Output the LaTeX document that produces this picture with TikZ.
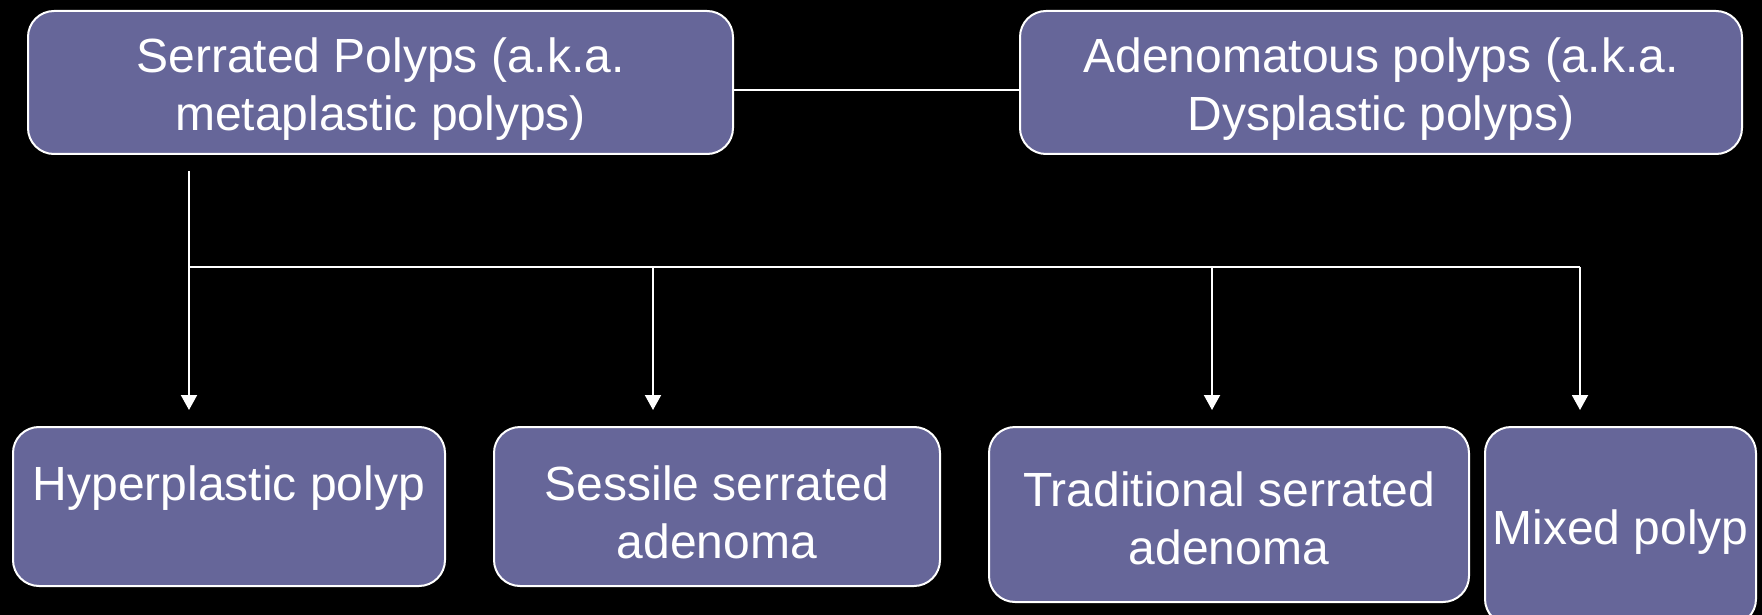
\documentclass[tikz,border=0pt]{standalone}
\usepackage{fontspec}
\setmainfont{Liberation Sans}
\usetikzlibrary{arrows.meta}
\definecolor{boxfill}{RGB}{102,102,153}
\tikzset{
  pbox/.style={draw=white, line width=2pt, fill=boxfill, rounded corners=26pt,
    inner sep=0pt},
  ptext/.style={text=white, align=center, inner sep=0pt,
    font=\fontsize{48}{58}\selectfont},
  link/.style={draw=white, line width=2pt},
  arr/.style={link, -{Triangle[width=16pt,length=15pt]}}
}
\begin{document}
\begin{tikzpicture}[x=1pt,y=-1pt]
\fill[black] (0,0) rectangle (1762,615);
\useasboundingbox (0,0) rectangle (1762,615);
% top boxes
\node[pbox, minimum width=705pt, minimum height=143pt] (sp) at (380.5,82.5) {};
\node[ptext] (spt) at ([yshift=-7pt]sp.center) {Serrated Polyps (a.k.a.\\metaplastic polyps)};
\node[pbox, minimum width=722pt, minimum height=143pt] (ap) at (1381,82.5) {};
\node[ptext] (apt) at ([yshift=-7pt]ap.center) {Adenomatous polyps (a.k.a.\\Dysplastic polyps)};
% bottom boxes
\node[pbox, minimum width=432pt, minimum height=159pt] (hp) at (229,506.5) {};
\node[ptext] (hpt) at ([yshift=-6pt]hp.center) {Hyperplastic polyp\\\mbox{}};
\node[pbox, minimum width=446pt, minimum height=159pt] (ssa) at (717,506.5) {};
\node[ptext] (ssat) at ([yshift=-6pt]ssa.center) {Sessile serrated\\adenoma};
\node[pbox, minimum width=480pt, minimum height=175pt] (tsa) at (1229,514.5) {};
\node[ptext] (tsat) at ([yshift=-4pt]tsa.center) {Traditional serrated\\adenoma};
\node[pbox, minimum width=271pt, minimum height=198pt] (mp) at (1620.5,526) {};
\node[ptext] (mpt) at ([yshift=-6pt]mp.center) {Mixed polyp};
% connector coordinates
\coordinate (start) at (189,171);
\coordinate (bus1) at (189,267);
\coordinate (bus2) at (653,267);
\coordinate (bus3) at (1212,267);
\coordinate (bus4) at (1580,267);
\coordinate (t1) at (189,410);
\coordinate (t2) at (653,410);
\coordinate (t3) at (1212,410);
\coordinate (t4) at (1580,410);
% connectors
\draw[link] (sp.east |- 0,90) -- (ap.west |- 0,90);
\draw[arr] (start) -- (t1);
\draw[link] (bus1) -- (bus4);
\draw[arr] (bus2) -- (t2);
\draw[arr] (bus3) -- (t3);
\draw[arr] (bus4) -- (t4);
\end{tikzpicture}
\end{document}
